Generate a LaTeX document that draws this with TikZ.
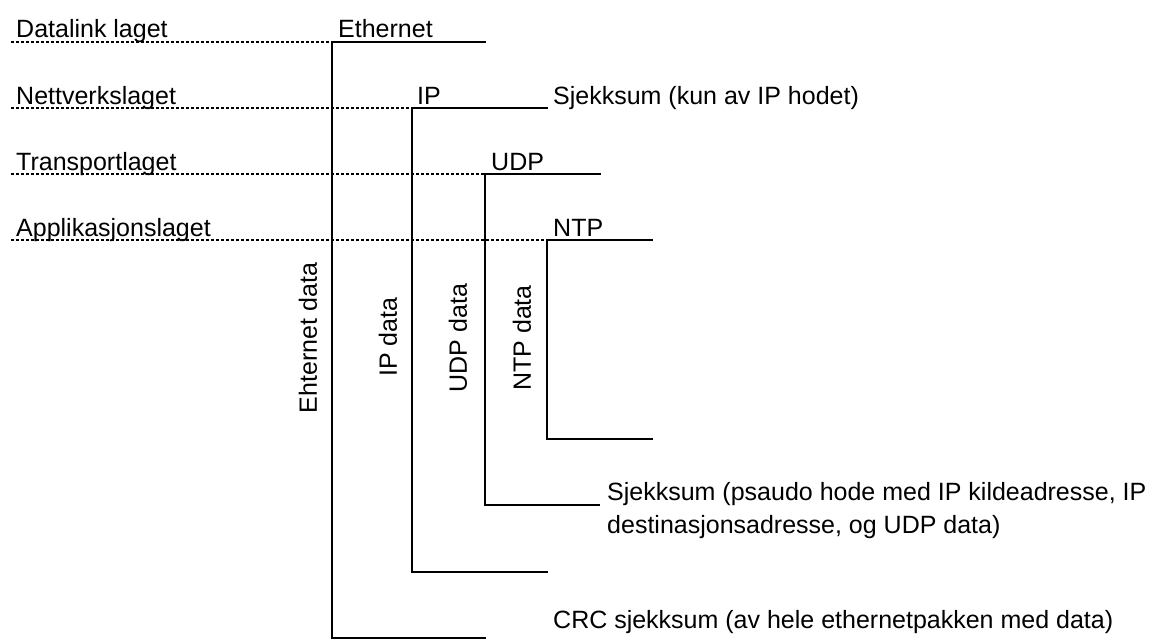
\documentclass[tikz,border=0pt]{standalone}
\usepackage{fontspec}
\setmainfont{Liberation Sans}

\begin{document}
\begin{tikzpicture}[x=1pt, y=-1pt,
      lbl/.style={anchor=base west, inner sep=0pt,
                  font=\fontsize{25}{33}\selectfont},
      rot/.style={rotate=90, inner sep=0pt,
                  font=\fontsize{25}{33}\selectfont},
      sep/.style={dash pattern=on 3pt off 2pt, line width=1.1pt},
      brk/.style={line width=1.3pt},
    ]
      \useasboundingbox (0,0) rectangle (1165,642);

      % lagene til venstre
      \coordinate (dl) at (11,42);
      \coordinate (nl) at (11,108);
      \coordinate (tl) at (11,174);
      \coordinate (al) at (11,240);
      \node[lbl] (dltxt) at (16,38)  {Datalink laget};
      \node[lbl] (nltxt) at (16,104) {Nettverkslaget};
      \node[lbl] (tltxt) at (16,170) {Transportlaget};
      \node[lbl] (altxt) at (16,236) {Applikasjonslaget};

      % hjorner
      \coordinate (eth) at (332,42);
      \coordinate (ip)  at (412,108);
      \coordinate (udp) at (485,174);
      \coordinate (ntp) at (547,240);

      \node[lbl] (ethtxt) at (338,38)  {Ethernet};
      \node[lbl] (iptxt)  at (417,104) {IP};
      \node[lbl] (udptxt) at (491,170) {UDP};
      \node[lbl] (ntptxt) at (553,236) {NTP};

      \node[rot] (ethdata) at (308,338) {Ehternet data};
      \node[rot] (ipdata)  at (388,337) {IP data};
      \node[rot] (udpdata) at (458,338) {UDP data};
      \node[rot] (ntpdata) at (522,338) {NTP data};

      \node[lbl] (ipsum) at (553,104) {Sjekksum (kun av IP hodet)};
      \node[lbl, align=left] (udpsum) at (607,533)
           {Sjekksum (psaudo hode med IP kildeadresse, IP\\
            destinasjonsadresse, og UDP data)};
      \node[lbl] (crc) at (553,628)
           {CRC sjekksum (av hele ethernetpakken med data)};

      \draw[sep] (dl) -- (eth);
      \draw[sep] (nl) -- (ip);
      \draw[sep] (tl) -- (udp);
      \draw[sep] (al) -- (ntp);

      \draw[brk] (eth) ++(154,0) -- (eth) |- ++(154,596);
      \draw[brk] (ip)  ++(136,0) -- (ip)  |- ++(136,464);
      \draw[brk] (udp) ++(116,0) -- (udp) |- ++(115,331);
      \draw[brk] (ntp) ++(106,0) -- (ntp) |- ++(106,199);
    \end{tikzpicture}
\end{document}
